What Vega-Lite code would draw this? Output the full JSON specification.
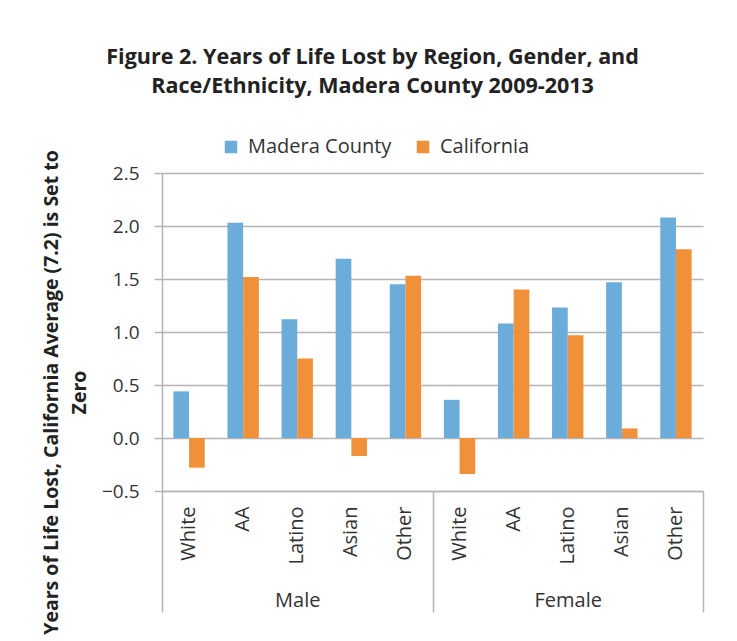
{
  "$schema": "https://vega.github.io/schema/vega-lite/v6.json",
  "autosize": "none",
  "width": 541,
  "height": 318,
  "padding": {"left": 162, "top": 173, "right": 34, "bottom": 150},
  "background": "white",
  "config": {
    "font": "Open Sans",
    "view": {"stroke": null},
    "axis": {"labelFont": "Open Sans", "titleFont": "Open Sans", "labelColor": "#333333", "titleColor": "#222222"},
    "legend": {"labelFont": "Open Sans"}
  },
  "title": {
    "text": ["Figure 2. Years of Life Lost by Region, Gender, and", "Race/Ethnicity, Madera County 2009-2013"],
    "font": "Open Sans",
    "fontSize": 21.5,
    "fontWeight": "bold",
    "color": "#222222",
    "lineHeight": 29,
    "anchor": "middle",
    "frame": "bounds",
    "offset": 40
  },
  "data": {
    "values": [
      {"gender": "Male", "race": "White", "cat": "Male|White", "series": "Madera County", "value": 0.44},
      {"gender": "Male", "race": "White", "cat": "Male|White", "series": "California", "value": -0.28},
      {"gender": "Male", "race": "AA", "cat": "Male|AA", "series": "Madera County", "value": 2.03},
      {"gender": "Male", "race": "AA", "cat": "Male|AA", "series": "California", "value": 1.52},
      {"gender": "Male", "race": "Latino", "cat": "Male|Latino", "series": "Madera County", "value": 1.12},
      {"gender": "Male", "race": "Latino", "cat": "Male|Latino", "series": "California", "value": 0.75},
      {"gender": "Male", "race": "Asian", "cat": "Male|Asian", "series": "Madera County", "value": 1.69},
      {"gender": "Male", "race": "Asian", "cat": "Male|Asian", "series": "California", "value": -0.17},
      {"gender": "Male", "race": "Other", "cat": "Male|Other", "series": "Madera County", "value": 1.45},
      {"gender": "Male", "race": "Other", "cat": "Male|Other", "series": "California", "value": 1.53},
      {"gender": "Female", "race": "White", "cat": "Female|White", "series": "Madera County", "value": 0.36},
      {"gender": "Female", "race": "White", "cat": "Female|White", "series": "California", "value": -0.34},
      {"gender": "Female", "race": "AA", "cat": "Female|AA", "series": "Madera County", "value": 1.08},
      {"gender": "Female", "race": "AA", "cat": "Female|AA", "series": "California", "value": 1.40},
      {"gender": "Female", "race": "Latino", "cat": "Female|Latino", "series": "Madera County", "value": 1.23},
      {"gender": "Female", "race": "Latino", "cat": "Female|Latino", "series": "California", "value": 0.97},
      {"gender": "Female", "race": "Asian", "cat": "Female|Asian", "series": "Madera County", "value": 1.47},
      {"gender": "Female", "race": "Asian", "cat": "Female|Asian", "series": "California", "value": 0.09},
      {"gender": "Female", "race": "Other", "cat": "Female|Other", "series": "Madera County", "value": 2.08},
      {"gender": "Female", "race": "Other", "cat": "Female|Other", "series": "California", "value": 1.78}
    ]
  },
  "layer": [
    {
      "mark": {"type": "bar"},
      "encoding": {
        "x": {
          "field": "cat",
          "type": "nominal",
          "sort": ["Male|White", "Male|AA", "Male|Latino", "Male|Asian", "Male|Other", "Female|White", "Female|AA", "Female|Latino", "Female|Asian", "Female|Other"],
          "scale": {"paddingInner": 0.42, "paddingOuter": 0.21},
          "axis": {
            "orient": "bottom",
            "title": null,
            "labelExpr": "split(datum.label, '|')[1]",
            "labelAngle": 270,
            "labelAlign": "right",
            "labelBaseline": "middle",
            "labelPadding": 15,
            "labelFontSize": 20,
            "ticks": false,
            "domain": false,
            "grid": false
          }
        },
        "xOffset": {
          "field": "series",
          "type": "nominal",
          "sort": ["Madera County", "California"],
          "scale": {"paddingInner": 0, "paddingOuter": 0}
        },
        "y": {
          "field": "value",
          "type": "quantitative",
          "scale": {"domain": [-0.5, 2.5], "nice": false, "zero": false},
          "axis": {
            "values": [-0.5, 0, 0.5, 1, 1.5, 2, 2.5],
            "format": ".1f",
            "title": ["Years of Life Lost, California Average (7.2) is Set to", "Zero"],
            "titleFontSize": 19.5,
            "titleFontWeight": "bold",
            "titleLineHeight": 28,
            "titleY": 219,
            "titlePadding": 12,
            "labelFontSize": 19,
            "labelPadding": 15,
            "tickSize": 8,
            "tickColor": "#B4B4B4",
            "domainColor": "#B4B4B4",
            "gridColor": "#B4B4B4",
            "gridWidth": 1.5,
            "domainWidth": 1.5,
            "tickWidth": 1.5
          }
        },
        "color": {
          "field": "series",
          "type": "nominal",
          "sort": ["Madera County", "California"],
          "scale": {"domain": ["Madera County", "California"], "range": ["#6BACDA", "#F0913A"]},
          "legend": {
            "title": null,
            "orient": "none",
            "direction": "horizontal",
            "legendX": 59,
            "legendY": -36,
            "symbolType": "square",
            "symbolSize": 156,
            "symbolStrokeWidth": 0,
            "symbolOpacity": 1,
            "labelFontSize": 20,
            "labelColor": "#333333",
            "labelOffset": 7,
            "columnPadding": 21,
            "padding": 0
          }
        }
      }
    },
    {
      "mark": {"type": "rule", "opacity": 0},
      "encoding": {
        "x": {
          "field": "gender",
          "type": "nominal",
          "sort": ["Male", "Female"],
          "scale": {"paddingInner": 0, "paddingOuter": 0},
          "axis": {
            "orient": "bottom",
            "title": null,
            "labelAngle": 0,
            "labelFontSize": 20,
            "labelBaseline": "top",
            "labelPadding": -22,
            "tickBand": "extent",
            "tickSize": 121,
            "tickColor": "#B4B4B4",
            "tickWidth": 1.5,
            "domainColor": "#B4B4B4",
            "domainWidth": 1.5,
            "grid": false
          }
        }
      }
    }
  ],
  "resolve": {"scale": {"x": "independent"}, "axis": {"x": "independent"}}
}
